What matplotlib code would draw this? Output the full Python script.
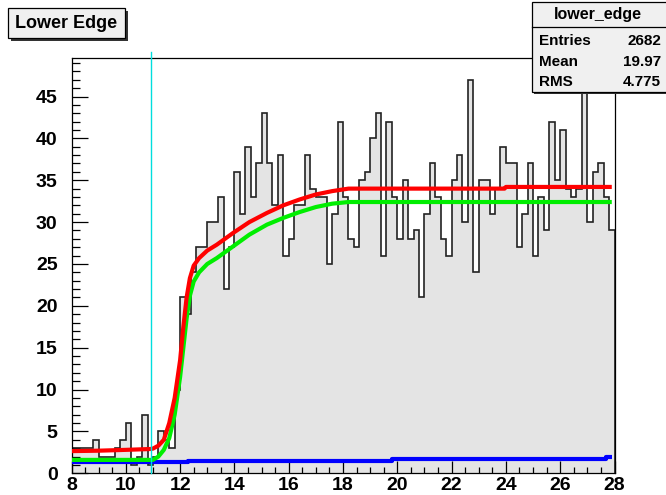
# Lower edge histogram with the two fits and background

import numpy as np
import matplotlib
matplotlib.use('Agg')
import matplotlib.pyplot as plt
from matplotlib.patches import Rectangle
from matplotlib.ticker import MultipleLocator

# histogram, 100 bins from 8 to 28
binLow = 8.0
binHigh = 28.0
counts = [3, 3, 3, 3, 4, 2, 2, 2, 3, 4,
          6, 1, 2, 7, 1, 2, 5, 4, 3, 10,
          21, 19, 24, 27, 27, 30, 30, 33, 22, 27,
          36, 31, 39, 33, 37, 43, 37, 32, 38, 26,
          28, 32, 32, 38, 34, 33, 33, 25, 31, 42,
          33, 28, 27, 35, 36, 40, 43, 26, 42, 33,
          28, 35, 28, 29, 21, 31, 37, 33, 28, 26,
          35, 38, 30, 47, 24, 35, 35, 31, 34, 39,
          37, 37, 27, 31, 37, 26, 33, 29, 42, 35,
          41, 34, 33, 34, 46, 30, 36, 37, 33, 29]

# fit curves
redX = [8.0, 9.0, 10.0, 10.9, 11.0, 11.2, 11.4, 11.6, 11.8, 12.0, 12.12, 12.24,
        12.36, 12.5, 12.7, 13.0, 13.35, 13.95, 14.55, 15.2, 15.8, 16.4, 17.0,
        17.6, 18.2, 20.0, 22.0, 23.95, 24.0, 26.0, 27.9]
redY = [2.65, 2.7, 2.8, 2.9, 2.95, 3.3, 4.0, 6.0, 9.0, 13.5, 17.5, 21.0,
        23.3, 24.8, 25.7, 26.6, 27.3, 28.7, 30.0, 31.1, 32.0, 32.7, 33.3,
        33.7, 34.0, 34.0, 34.0, 34.0, 34.2, 34.2, 34.2]

greenX = [8.0, 9.0, 10.0, 11.0, 11.2, 11.4, 11.6, 11.8, 12.0, 12.12, 12.24,
          12.36, 12.5, 12.7, 13.0, 13.35, 13.95, 14.55, 15.2, 15.8, 16.4, 17.0,
          17.6, 18.2, 20.0, 24.0, 27.9]
greenY = [1.6, 1.6, 1.6, 1.6, 2.0, 2.8, 4.2, 7.0, 11.5, 15.0, 18.5,
          21.2, 22.9, 24.0, 25.0, 25.7, 27.1, 28.5, 29.7, 30.5, 31.2, 31.8,
          32.2, 32.4, 32.4, 32.4, 32.4]

blueX = [8.0, 12.3, 12.3, 19.8, 19.8, 27.7, 27.7, 27.9]
blueY = [1.3, 1.3, 1.5, 1.5, 1.75, 1.75, 1.95, 1.95]

cutX = 10.93

title = 'Lower Edge'
histName = 'lower_edge'
statLabels = ['Entries', 'Mean', 'RMS']
statValues = ['2682', '19.97', '4.775']

W, H = 666, 495
FONT = 'Liberation Sans'


def px(x, y):
    # pixel position -> figure fraction
    return x / W, 1 - y / H


def box(fig, x0, y0, x1, y1, shadow=3):
    fx, fy = px(x0 + shadow, y1 + shadow)
    fig.patches.append(Rectangle((fx, fy), (x1 - x0) / W, (y1 - y0) / H,
                                 transform=fig.transFigure, facecolor='#333333',
                                 edgecolor='none', zorder=1))
    fx, fy = px(x0, y1)
    fig.patches.append(Rectangle((fx, fy), (x1 - x0) / W, (y1 - y0) / H,
                                 transform=fig.transFigure, facecolor='#f0f0f0',
                                 edgecolor='black', linewidth=0.9, zorder=2))


def main():
    fig = plt.figure(figsize=(W / 100, H / 100), dpi=100)
    left, right, top, bottom = 71.5, 614.5, 58, 473.3
    ax = fig.add_axes([left / W, 1 - bottom / H, (right - left) / W, (bottom - top) / H])

    edges = np.linspace(binLow, binHigh, len(counts) + 1)
    ax.stairs(counts, edges, baseline=0, fill=True, color='#e4e4e4', zorder=1)
    ax.stairs(counts, edges, baseline=0, color='#222222', linewidth=1.2, zorder=2)

    ax.plot(blueX, blueY, color='#0000ff', linewidth=3, solid_capstyle='butt', zorder=3)
    ax.plot(greenX, greenY, color='#00ee00', linewidth=3, solid_capstyle='butt', zorder=4)
    ax.plot(redX, redY, color='#ff0000', linewidth=3, solid_capstyle='butt', zorder=5)
    ax.plot([cutX, cutX], [0, 50.3], color='#00dede', linewidth=1, clip_on=False, zorder=6)

    ax.set_xlim(binLow, binHigh)
    ax.set_ylim(0, 49.6)
    ax.xaxis.set_major_locator(MultipleLocator(2))
    ax.xaxis.set_minor_locator(MultipleLocator(0.5))
    ax.yaxis.set_major_locator(MultipleLocator(5))
    ax.yaxis.set_minor_locator(MultipleLocator(1))
    ax.tick_params(which='both', direction='in', top=False, right=False, width=0.9)
    ax.xaxis.set_tick_params(which='major', length=9, pad=3)
    ax.xaxis.set_tick_params(which='minor', length=4.5)
    ax.yaxis.set_tick_params(which='major', length=11.5, pad=10)
    ax.yaxis.set_tick_params(which='minor', length=5.8)
    for lab in ax.get_xticklabels() + ax.get_yticklabels():
        lab.set_fontfamily(FONT)
        lab.set_fontweight('bold')
        lab.set_fontsize(14)
    for s in ax.spines.values():
        s.set_linewidth(0.9)

    # title box
    box(fig, 8, 8, 125, 38)
    tx, ty = px(66.5, 23)
    fig.text(tx, ty, title, ha='center', va='center', fontsize=13,
             fontweight='bold', family=FONT, zorder=3)

    # stats box
    box(fig, 532, 2, 668, 92, shadow=2)
    hx0, hy = px(532, 27)
    fig.add_artist(plt.Line2D([hx0, 1], [hy, hy], transform=fig.transFigure,
                              color='black', linewidth=0.9, zorder=3))
    tx, ty = px(598, 15)
    fig.text(tx, ty, histName, ha='center', va='center', fontsize=11.5,
             fontweight='bold', family=FONT, zorder=3)
    for i in range(len(statLabels)):
        rowY = 41 + i * 20.5
        lx, ly = px(539, rowY)
        fig.text(lx, ly, statLabels[i], ha='left', va='center', fontsize=11,
                 fontweight='bold', family=FONT, zorder=3)
        rx, ry = px(661, rowY)
        fig.text(rx, ry, statValues[i], ha='right', va='center', fontsize=11,
                 fontweight='bold', family=FONT, zorder=3)

    fig.savefig('out.png', dpi=100)


if __name__ == '__main__':
    main()
